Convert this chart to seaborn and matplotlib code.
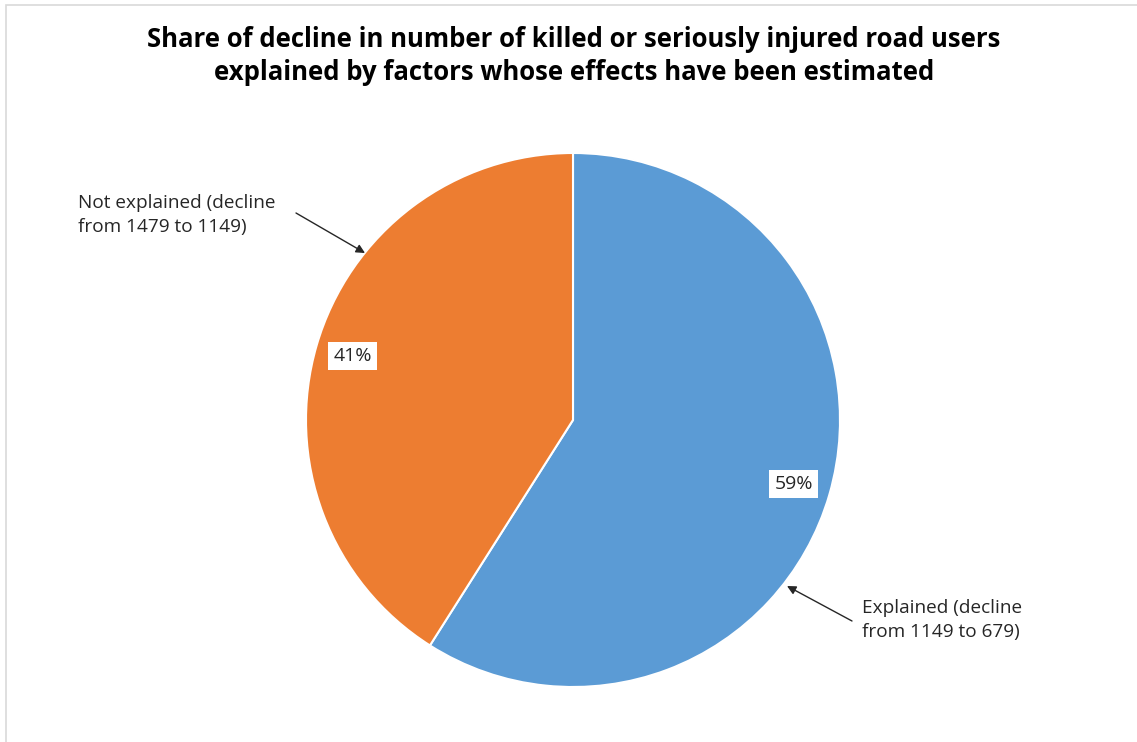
import matplotlib
matplotlib.use("Agg")
import matplotlib.pyplot as plt
from matplotlib.patches import Rectangle
import seaborn as sns

categories = ["Explained (decline\nfrom 1149 to 679)", "Not explained (decline\nfrom 1479 to 1149)"]
shares = [59, 41]
colors = ["#5B9BD5", "#ED7D31"]
title = "Share of decline in number of killed or seriously injured road users\nexplained by factors whose effects have been estimated"

sns.set_theme(style="white")
plt.rcParams["font.family"] = ["Open Sans", "DejaVu Sans"]

W, H = 1137, 742
fig = plt.figure(figsize=(W / 100, H / 100), dpi=100)
ax = fig.add_axes([0, 0, 1, 1])

cx, cy, r = 573, H - 420, 267
wedges, texts, autotexts = ax.pie(
    shares, colors=colors, startangle=90, counterclock=False,
    center=(cx, cy), radius=r, autopct="%.0f%%", pctdistance=0.86,
    wedgeprops=dict(edgecolor="white", linewidth=1.5),
    textprops=dict(fontsize=14, color="#262626"),
)
for t in autotexts:
    t.set_bbox(dict(facecolor="white", edgecolor="none", pad=3.5))

# pie() resets the limits, so set the pixel-like frame afterwards
ax.set_xlim(0, W)
ax.set_ylim(0, H)
ax.set_aspect("equal")
ax.axis("off")

# chart area border
ax.add_patch(Rectangle((6, -10), W + 10, H - 5 + 10, fill=False, edgecolor="#D9D9D9", linewidth=1.2))

ax.text(574, H - 56, title, ha="center", va="center", fontsize=18.5,
        fontweight="bold", color="black", linespacing=1.3)

label_kw = dict(ha="left", va="center", fontsize=13.7, color="#262626", linespacing=1.45)
arrow_kw = dict(arrowstyle="-|>", color="#262626", lw=1.0, shrinkA=0, shrinkB=0, mutation_scale=13)

ax.text(78, H - 215, categories[1], **label_kw)
ax.annotate("", xy=(365, H - 253), xytext=(296, H - 213), arrowprops=arrow_kw)

ax.text(862, H - 620, categories[0], **label_kw)
ax.annotate("", xy=(787, H - 586), xytext=(852, H - 621), arrowprops=arrow_kw)

fig.savefig("out.png", dpi=100, facecolor="white")
